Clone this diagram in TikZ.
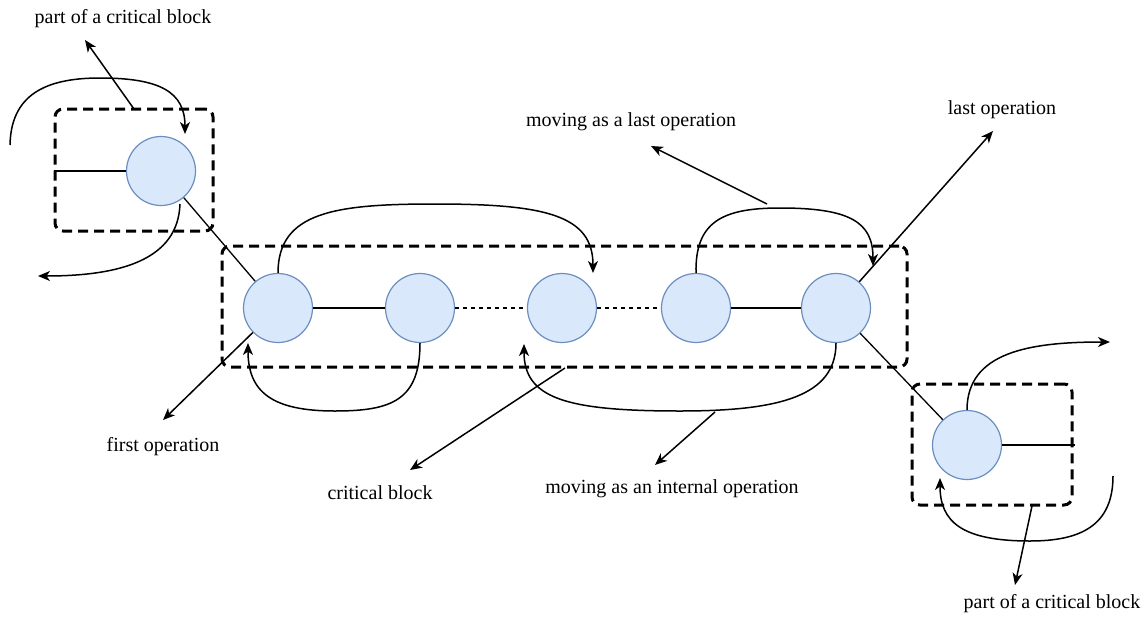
\documentclass[tikz,border=0pt]{standalone}
\usepackage{fontspec}
\setmainfont{Liberation Serif}
\usetikzlibrary{arrows.meta}
\definecolor{cfill}{HTML}{DAE8FC}
\definecolor{cdraw}{HTML}{6C8EBF}
\begin{document}
\begin{tikzpicture}[x=1pt,y=-1pt,
 op/.style={circle,draw=cdraw,fill=cfill,line width=1.2pt,minimum size=69pt,inner sep=0pt},
 blockbox/.style={draw,line width=3pt,dash pattern=on 10pt off 6pt,rounded corners=8pt,inner sep=0pt},
 lbl/.style={font=\fontsize{20}{24}\selectfont,inner sep=0pt},
 conn/.style={line width=1.3pt},
 arr/.style={line width=1.5pt,-{Stealth[length=12pt,width=10pt,inset=3.5pt]}},
 dotline/.style={line width=1.2pt,dash pattern=on 4pt off 4pt}]
\useasboundingbox (0,0) rectangle (1148,616);

% block boxes
\node[blockbox,minimum width=158pt,minimum height=122pt] (box0) at (134,170) {};
\node[blockbox,minimum width=685pt,minimum height=121pt] (box1) at (564.5,306.5) {};
\node[blockbox,minimum width=160pt,minimum height=121pt] (box2) at (992,444.5) {};

% operations
\node[op] (c0) at (161,171) {};
\node[op] (c1) at (278,308) {};
\node[op] (c2) at (420,308) {};
\node[op] (c3) at (562,308) {};
\node[op] (c4) at (696,308) {};
\node[op] (c5) at (836,308) {};
\node[op] (c6) at (967,445) {};

% labels
\node[lbl] (l1) at (123,19) {part of a critical block};
\node[lbl] (l2) at (631,122) {moving as a last operation};
\node[lbl] (l3) at (1002,110) {last operation};
\node[lbl] (l4) at (163,447) {first operation};
\node[lbl] (l5) at (380,493) {critical block};
\node[lbl] (l6) at (672,489) {moving as an internal operation};
\node[lbl] (l7) at (1052,604) {part of a critical block};

% free-end coordinates
\coordinate (p1s) at (134,109);
\coordinate (p1e) at (85,40);
\coordinate (tlin) at (10,145);
\coordinate (tltip) at (185,134);
\coordinate (tlbot) at (180,204);
\coordinate (tlout) at (38,276);
\coordinate (a1s) at (278,273);
\coordinate (a1e) at (593,273);
\coordinate (a2s) at (696,273);
\coordinate (a2e) at (873,266);
\coordinate (mls) at (767,204);
\coordinate (mle) at (651,146);
\coordinate (loe) at (993,131);
\coordinate (foe) at (163,420);
\coordinate (b1s) at (420,343);
\coordinate (b1e) at (248,343);
\coordinate (b2s) at (836,343);
\coordinate (b2e) at (524,344);
\coordinate (cbs) at (565,368);
\coordinate (cbe) at (410,470);
\coordinate (mis) at (715,412);
\coordinate (mie) at (655,465);
\coordinate (brs) at (967,410);
\coordinate (bre) at (1110,342);
\coordinate (brin) at (1113,476);
\coordinate (brtip) at (940,478);
\coordinate (p7s) at (1032,506);
\coordinate (p7e) at (1015,585);
\coordinate (brend) at (1075,445);

% plain connectors
\draw[conn] (c0) -- (c0 -| box0.west);
\draw[conn] (c0) -- (c1);
\draw[conn] (c1) -- (c2);
\draw[dotline] (c2) -- (c3);
\draw[dotline] (c3) -- (c4);
\draw[conn] (c4) -- (c5);
\draw[conn] (c5) -- (c6);
\draw[conn] (c6) -- (brend);

% straight arrows
\draw[arr] (p1s) -- (p1e);
\draw[arr] (mls) -- (mle);
\draw[arr] (c5) -- (loe);
\draw[arr] (c1) -- (foe);
\draw[arr] (cbs) -- (cbe);
\draw[arr] (mis) -- (mie);
\draw[arr] (p7s) -- (p7e);

% curved arrows
\draw[arr] (tlin) .. controls (11,95) and (45,78) .. (100,78) .. controls (160,78) and (185,92) .. (tltip);
\draw[arr] (tlbot) .. controls (178,260) and (120,276) .. (tlout);
\draw[arr] (a1s) .. controls (278,212) and (335,204) .. (435,204) .. controls (545,204) and (593,215) .. (a1e);
\draw[arr] (a2s) .. controls (695,222) and (722,208) .. (780,208) .. controls (850,208) and (873,222) .. (a2e);
\draw[arr] (b1s) .. controls (420,400) and (392,411) .. (335,411) .. controls (272,411) and (248,392) .. (b1e);
\draw[arr] (b2s) .. controls (836,396) and (780,411) .. (680,411) .. controls (565,411) and (524,398) .. (b2e);
\draw[arr] (brs) .. controls (967,352) and (1030,342) .. (bre);
\draw[arr] (brin) .. controls (1113,526) and (1080,541) .. (1030,541) .. controls (962,541) and (940,522) .. (brtip);
\end{tikzpicture}
\end{document}
